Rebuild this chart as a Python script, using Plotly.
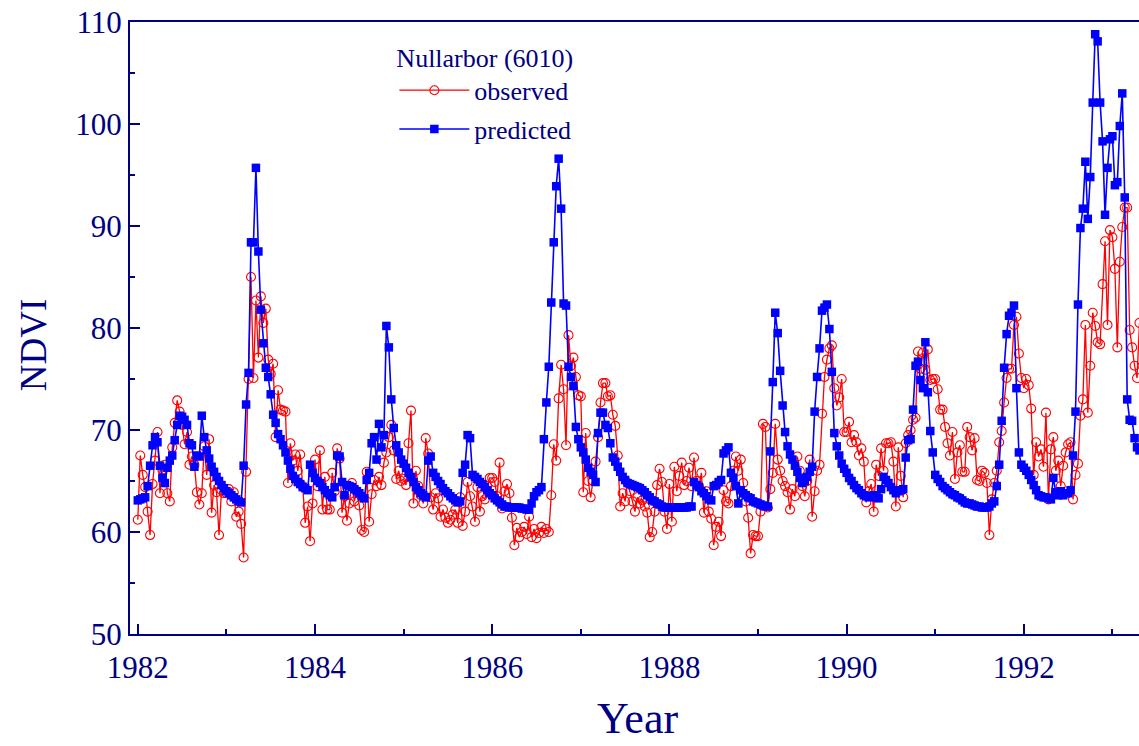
import plotly.graph_objects as go

# ---- data: dekadal (10-day) NDVI values, 36 per year ----
START_YEAR = 1982
STEPS_PER_YEAR = 36

OBS_1982 = [61.2, 67.5, 65.6, 64.4, 62.0, 59.7, 64.7, 67.0, 69.8, 63.8, 66.1, 66.6, 63.8, 63.0, 68.3, 70.7, 72.9, 71.8,
            70.5, 68.6, 69.8, 66.6, 67.4, 66.6, 63.9, 62.7, 63.8, 68.4, 65.6, 69.1, 61.9, 64.6, 63.9, 59.7, 64.1, 63.8]
OBS_1983 = [63.8, 64.2, 63.0, 63.9, 61.5, 62.0, 60.8, 57.5, 65.9, 75.0, 85.0, 75.1, 82.7, 77.1, 83.1, 80.5, 81.9, 76.9,
            75.5, 76.5, 69.3, 73.9, 72.0, 71.9, 71.8, 64.8, 68.7, 67.0, 67.6, 66.0, 67.6, 64.5, 60.9, 62.5, 59.1, 62.8]
OBS_1984 = [67.1, 64.5, 68.0, 62.2, 65.4, 62.2, 62.2, 65.8, 64.0, 68.2, 67.2, 61.9, 63.5, 61.1, 62.8, 64.8, 63.0, 64.0,
            62.6, 60.2, 60.0, 65.9, 61.0, 63.7, 65.1, 64.5, 65.4, 64.6, 66.8, 67.8, 69.3, 70.5, 68.0, 65.2, 66.0, 65.0]
OBS_1985 = [65.2, 64.6, 68.7, 71.9, 62.8, 66.0, 64.5, 63.6, 62.8, 69.2, 67.7, 63.4, 62.2, 63.8, 63.3, 61.5, 62.2, 61.4,
            60.9, 61.2, 61.7, 62.2, 60.9, 63.4, 60.6, 62.0, 64.9, 63.5, 62.5, 61.0, 64.4, 62.0, 63.5, 63.2, 64.5, 65.3]
OBS_1986 = [65.3, 64.9, 63.5, 66.8, 62.3, 64.0, 64.7, 63.8, 61.4, 58.7, 60.4, 59.5, 60.0, 60.5, 59.8, 61.5, 59.5, 60.3,
            59.4, 59.9, 60.5, 59.9, 60.3, 60.0, 63.6, 68.6, 67.0, 73.1, 76.4, 74.0, 68.5, 79.3, 76.3, 77.1, 75.2, 73.4]
OBS_1987 = [73.3, 63.9, 69.7, 65.0, 63.4, 65.0, 66.9, 69.3, 72.7, 74.6, 74.6, 73.3, 73.4, 71.5, 70.4, 67.5, 62.5, 63.8,
            63.0, 64.8, 64.0, 63.0, 62.0, 63.4, 62.8, 63.1, 62.5, 61.9, 59.5, 60.0, 62.0, 64.6, 66.2, 64.9, 62.0, 60.3]
OBS_1988 = [64.7, 61.0, 66.4, 64.0, 65.5, 66.8, 64.6, 65.0, 66.3, 64.5, 67.3, 65.0, 64.5, 65.8, 61.9, 64.0, 62.0, 61.3,
            58.7, 60.5, 61.0, 59.6, 64.1, 63.0, 62.8, 64.5, 66.0, 67.4, 66.0, 67.1, 64.8, 63.0, 61.4, 57.9, 59.7, 59.6]
OBS_1989 = [59.6, 62.0, 70.6, 70.3, 62.4, 64.2, 65.8, 70.6, 67.1, 66.0, 65.0, 64.5, 63.9, 62.2, 64.2, 63.5, 67.4, 66.0,
            64.5, 63.5, 65.0, 67.1, 61.5, 64.0, 66.0, 66.6, 71.6, 75.2, 76.9, 78.0, 78.3, 74.1, 72.4, 73.2, 75.0, 69.8]
OBS_1990 = [69.8, 70.8, 68.8, 69.5, 68.8, 67.5, 68.2, 66.9, 62.9, 64.0, 64.7, 62.0, 66.6, 65.5, 68.2, 66.0, 68.7, 68.7,
            68.8, 66.9, 62.5, 68.3, 65.5, 63.4, 68.7, 69.5, 70.0, 71.0, 71.2, 77.7, 76.0, 77.6, 75.9, 77.9, 74.9, 75.0]
OBS_1991 = [75.0, 74.0, 72.0, 72.0, 70.3, 68.7, 67.5, 69.8, 65.2, 67.8, 68.5, 65.9, 65.9, 70.3, 69.3, 68.0, 69.2, 65.1,
            65.0, 66.0, 65.8, 64.8, 59.7, 63.2, 64.8, 66.0, 68.8, 69.9, 72.7, 75.1, 76.0, 76.0, 80.3, 81.1, 77.5, 75.1]
OBS_1992 = [74.1, 75.0, 74.4, 72.1, 65.6, 68.8, 67.4, 68.1, 66.4, 71.7, 63.2, 68.1, 69.3, 66.0, 67.0, 64.5, 66.5, 67.8,
            68.6, 68.8, 63.2, 65.6, 66.7, 71.4, 73.0, 80.3, 71.7, 76.3, 81.5, 80.2, 78.6, 78.4, 84.3, 88.5, 80.3, 89.6]
OBS_1993 = [88.9, 85.8, 78.1, 86.5, 89.9, 91.8, 91.8, 79.8, 78.1, 76.3, 75.1, 80.5]

PRED_1982 = [63.1, 63.2, 63.3, 63.4, 64.5, 66.5, 68.5, 69.3, 68.8, 66.5, 65.3, 64.8, 66.3, 67.0, 67.5, 69.0, 70.5, 71.4,
             71.3, 71.0, 70.5, 68.7, 68.5, 66.4, 67.5, 67.4, 71.4, 69.3, 68.0, 67.2, 66.4, 65.9, 65.4, 65.0, 64.6, 64.3]
PRED_1983 = [64.0, 63.8, 63.6, 63.4, 63.2, 63.0, 62.9, 66.5, 72.5, 75.6, 88.4, 88.4, 95.7, 87.5, 81.8, 78.5, 76.1, 75.2,
             73.5, 71.5, 70.7, 69.6, 69.1, 68.5, 67.8, 67.0, 66.2, 65.5, 65.2, 64.9, 64.7, 64.4, 64.3, 64.1, 66.6, 65.8]
PRED_1984 = [65.3, 65.0, 64.8, 64.4, 64.1, 63.8, 63.6, 63.4, 64.4, 67.5, 67.4, 64.9, 63.6, 64.6, 64.5, 64.4, 64.2, 64.0,
             63.8, 63.5, 63.3, 65.1, 65.8, 68.7, 69.3, 67.1, 70.6, 68.3, 69.5, 80.2, 78.1, 73.0, 70.2, 68.5, 67.8, 67.1]
PRED_1985 = [66.7, 66.3, 65.8, 65.4, 64.9, 64.4, 64.1, 63.8, 63.6, 63.4, 67.0, 67.4, 65.8, 65.4, 65.0, 64.7, 64.3, 64.0,
             63.8, 63.5, 63.3, 63.1, 62.9, 63.0, 65.8, 66.6, 69.5, 69.2, 65.6, 65.4, 65.2, 64.9, 64.7, 64.4, 64.1, 63.8]
PRED_1986 = [63.6, 63.3, 63.1, 62.9, 62.7, 62.5, 62.5, 62.4, 62.4, 62.4, 62.4, 62.4, 62.3, 62.3, 62.2, 62.2, 62.8, 63.5,
             63.9, 64.1, 64.4, 69.1, 72.7, 76.2, 82.5, 88.4, 93.9, 96.6, 91.7, 82.4, 82.2, 76.2, 75.2, 74.3, 70.3, 69.1]
PRED_1987 = [68.3, 67.8, 67.1, 66.3, 65.9, 65.6, 64.9, 69.7, 71.7, 71.7, 70.5, 70.2, 68.7, 67.3, 66.9, 66.4, 65.9, 65.4,
             65.1, 64.8, 64.7, 64.6, 64.5, 64.4, 64.3, 64.1, 63.9, 63.6, 63.4, 63.1, 63.0, 62.8, 62.7, 62.5, 62.4, 62.4]
PRED_1988 = [62.4, 62.4, 62.4, 62.4, 62.4, 62.4, 62.4, 62.4, 62.5, 62.5, 64.9, 64.6, 64.4, 64.0, 63.8, 63.5, 63.2, 63.1,
             64.5, 64.6, 64.9, 65.1, 67.7, 68.0, 68.3, 65.8, 65.3, 64.5, 62.8, 64.1, 63.8, 63.6, 63.4, 63.3, 63.0, 62.9]
PRED_1989 = [62.8, 62.7, 62.6, 62.5, 62.5, 67.9, 74.7, 81.5, 79.5, 75.8, 72.4, 69.8, 68.4, 67.6, 67.1, 66.5, 65.9, 65.3,
             64.8, 65.0, 65.4, 65.9, 66.4, 71.8, 75.2, 78.0, 81.7, 82.0, 82.3, 79.9, 75.7, 69.7, 68.4, 67.5, 66.7, 66.2]
PRED_1990 = [65.8, 65.3, 65.0, 64.6, 64.3, 64.1, 63.8, 63.6, 63.5, 63.4, 63.5, 63.6, 63.4, 63.3, 64.2, 65.4, 65.1, 64.8,
             64.4, 64.1, 63.8, 64.0, 64.1, 64.2, 67.3, 69.0, 69.1, 72.0, 76.3, 76.7, 74.9, 74.1, 78.6, 73.7, 69.9, 67.8]
PRED_1991 = [65.6, 65.2, 64.9, 64.5, 64.3, 64.1, 63.9, 63.7, 63.6, 63.4, 63.3, 63.1, 62.9, 62.8, 62.8, 62.7, 62.6, 62.5,
             62.5, 62.4, 62.4, 62.4, 62.5, 62.8, 63.0, 64.5, 66.6, 70.9, 76.1, 79.4, 81.2, 81.5, 82.2, 74.1, 67.8, 66.6]
PRED_1992 = [66.3, 66.0, 65.6, 65.1, 64.6, 64.1, 63.6, 63.5, 63.4, 63.4, 63.3, 63.2, 65.3, 63.9, 63.6, 64.0, 63.6, 63.8,
             63.8, 64.1, 67.5, 71.8, 82.3, 89.8, 91.7, 96.3, 90.7, 94.8, 102.1, 108.8, 108.1, 102.1, 98.3, 91.1, 95.7, 98.5]
PRED_1993 = [98.8, 94.0, 94.3, 99.8, 103.0, 92.8, 73.0, 71.0, 70.9, 69.2, 68.3, 68.0]

Y_TICKS = [50, 60, 70, 80, 90, 100, 110]
X_TICKS = [1982, 1984, 1986, 1988, 1990, 1992]

observed = (OBS_1982 + OBS_1983 + OBS_1984 + OBS_1985 + OBS_1986 + OBS_1987 + OBS_1988 + OBS_1989
            + OBS_1990 + OBS_1991 + OBS_1992 + OBS_1993)
predicted = (PRED_1982 + PRED_1983 + PRED_1984 + PRED_1985 + PRED_1986 + PRED_1987 + PRED_1988 + PRED_1989
             + PRED_1990 + PRED_1991 + PRED_1992 + PRED_1993)
time_obs = [START_YEAR + k / STEPS_PER_YEAR for k in range(len(observed))]
time_pred = [START_YEAR + k / STEPS_PER_YEAR for k in range(len(predicted))]

NAVY = "#000080"
FONT = "Times New Roman, Liberation Serif, serif"

fig = go.Figure()
fig.add_trace(go.Scatter(
    x=time_obs, y=observed, mode="lines+markers", name="observed",
    line=dict(color="#FF0000", width=1.3),
    marker=dict(symbol="circle-open", size=9, color="#FF0000", line=dict(width=1.1, color="#FF0000")),
    legendgroup="a",
))
fig.add_trace(go.Scatter(
    x=time_pred, y=predicted, mode="lines+markers", name="predicted",
    line=dict(color="#0000FF", width=1.6),
    marker=dict(symbol="square", size=8.5, color="#0000FF"),
    legendgroup="b",
))

fig.update_layout(
    width=1139, height=746,
    margin=dict(l=130, r=0, t=22, b=112, autoexpand=False),
    paper_bgcolor="white", plot_bgcolor="white",
    font=dict(family=FONT, color=NAVY),
    showlegend=True,
    legend=dict(
        x=0.262, y=0.982, xanchor="left", yanchor="top",
        bgcolor="rgba(0,0,0,0)",
        font=dict(family=FONT, size=26, color=NAVY),
        title=dict(text="Nullarbor (6010)", font=dict(family=FONT, size=26, color=NAVY)),
        itemwidth=70, tracegroupgap=2,
    ),
    annotations=[
        dict(text="NDVI", xref="paper", yref="paper", x=0, y=0.472,
             xanchor="center", yanchor="middle", xshift=-97, textangle=-90, showarrow=False,
             font=dict(family=FONT, size=37, color=NAVY)),
        dict(text="Year", xref="paper", yref="paper", x=0.503, y=0,
             xanchor="center", yanchor="bottom", yshift=-111, showarrow=False,
             font=dict(family=FONT, size=44, color=NAVY)),
    ],
)
fig.update_xaxes(
    range=[1981.912, 1993.30], automargin=False,
    tickmode="array", tickvals=X_TICKS, ticktext=[str(v) for v in X_TICKS],
    ticks="inside", ticklen=10, tickwidth=2, tickcolor=NAVY,
    minor=dict(dtick=1, tick0=1983, ticks="inside", ticklen=5, tickwidth=2, tickcolor=NAVY),
    showline=True, linecolor=NAVY, linewidth=2, mirror=True,
    showgrid=False, zeroline=False,
    ticklabelstandoff=5, ticklabeloverflow="allow",
    tickfont=dict(family=FONT, size=31, color=NAVY),
)
fig.update_yaxes(
    range=[50, 110], automargin=False,
    tickmode="array", tickvals=Y_TICKS, ticktext=[str(v) for v in Y_TICKS],
    ticks="inside", ticklen=10, tickwidth=2, tickcolor=NAVY,
    minor=dict(dtick=5, tick0=55, ticks="inside", ticklen=5, tickwidth=2, tickcolor=NAVY),
    showline=True, linecolor=NAVY, linewidth=2, mirror=False,
    showgrid=False, zeroline=False, ticklabeloverflow="allow",
    tickfont=dict(family=FONT, size=31, color=NAVY),
)

# remove the default 8px page margin so the figure sits at the window's top-left corner
fig.write_html("out.html", config={"displayModeBar": False},
               post_script="document.body.style.margin='0px';")
